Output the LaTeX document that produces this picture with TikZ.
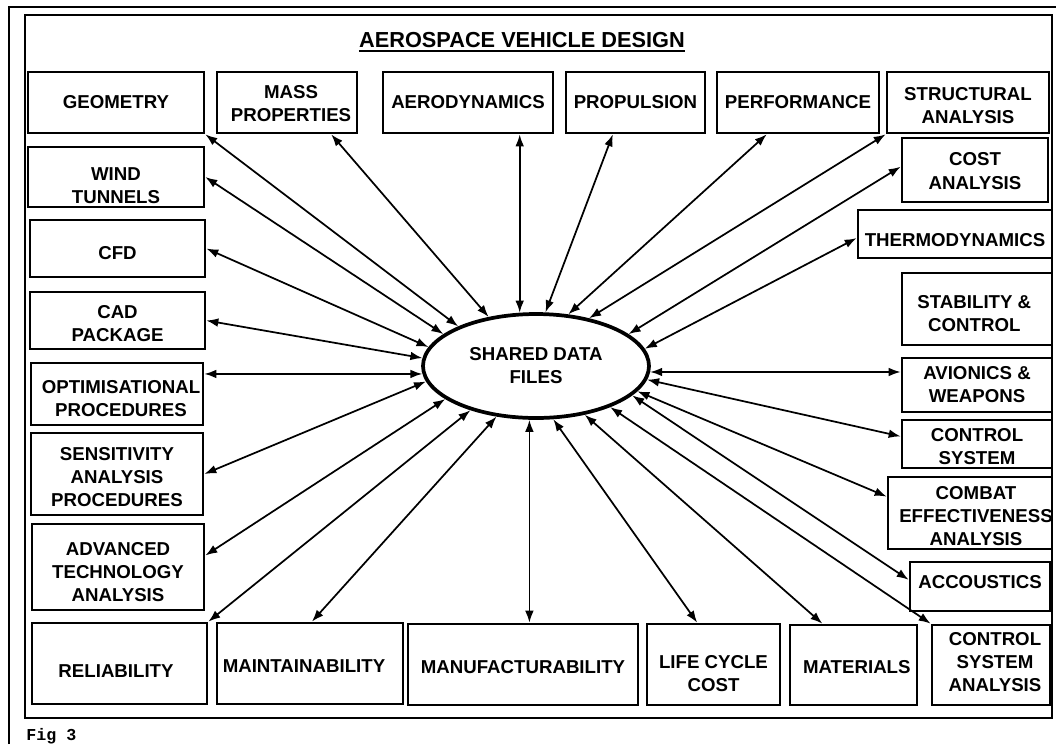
\documentclass[tikz,border=0pt]{standalone}
\usepackage{fontspec}
\setmainfont{Liberation Sans}
\newfontfamily\figfont{Liberation Mono}
\usetikzlibrary{arrows.meta,calc,fit,shapes.geometric}

\tikzset{
  box/.style={draw, line width=2pt, inner sep=0pt},
  txt/.style={font=\bfseries\fontsize{14}{17.3}\selectfont, align=center, inner sep=0pt},
  hub/.style={ellipse, draw, line width=2.8pt, inner sep=0pt,
              minimum width=169.5pt, minimum height=78pt,
              font=\bfseries\fontsize{14}{17.3}\selectfont, align=center},
  link/.style={{Latex[length=9pt,width=6.5pt]}-{Latex[length=9pt,width=6.5pt]}, line width=1.3pt},
  frame/.style={line width=2.2pt}
}

\begin{document}
\begin{tikzpicture}[x=0.75pt, y=-0.75pt]
\useasboundingbox (0,0) rectangle (1056,744);
\fill[white] (0,0) rectangle (1056,744);

% page frames
\draw[line width=1.9pt] (9,744) -- (9,7) -- (1056,7);
\draw[frame] (25,15) rectangle (1052,718);

% heading
\node[txt, font=\bfseries\fontsize{16.3}{19}\selectfont, anchor=base] (ttl) at (522,47) {AEROSPACE VEHICLE DESIGN};
\draw[line width=1.5pt] ([yshift=-3pt]ttl.base west) -- ([yshift=-3pt]ttl.base east);

% central store
\node[hub] (ell) at (536,366) {SHARED DATA\\FILES};

% top row
\node[box, fit={(28,72) (204,133)}] (geo) {};
\node[box, fit={(217,72) (357,133)}] (mass) {};
\node[box, fit={(383,72) (553,133)}] (aero) {};
\node[box, fit={(566,72) (705,133)}] (prop) {};
\node[box, fit={(717,72) (879,133)}] (perf) {};
\node[box, fit={(887,72) (1049,133)}] (struct) {};
% right column
\node[box, fit={(902,138) (1048,202)}] (cost) {};
\node[box, fit={(858,210) (1052,258)}] (thermo) {};
\node[box, fit={(902,273) (1052,345)}] (stab) {};
\node[box, fit={(902,358) (1052,412)}] (avi) {};
\node[box, fit={(902,420) (1052,468)}] (ctrl) {};
\node[box, fit={(888,477) (1052,549)}] (combat) {};
\node[box, fit={(910,562) (1050,611)}] (acc) {};
% bottom row
\node[box, fit={(932,625) (1050,705)}] (csa) {};
\node[box, fit={(790,625) (917,705)}] (mat) {};
\node[box, fit={(647,624) (780,705)}] (life) {};
\node[box, fit={(408,624) (638,705)}] (manuf) {};
\node[box, fit={(217,623) (403,704)}] (maint) {};
\node[box, fit={(32,623) (207,704)}] (reli) {};
% left column
\node[box, fit={(32,524) (204,610)}] (adv) {};
\node[box, fit={(31,433) (203,515)}] (sens) {};
\node[box, fit={(31,363) (203,425)}] (opt) {};
\node[box, fit={(30,292) (205,349)}] (cad) {};
\node[box, fit={(30,220) (205,277)}] (cfd) {};
\node[box, fit={(28,147) (204,207)}] (wind) {};

% box labels
\node[txt] (geo-t) at (geo) {GEOMETRY};
\node[txt, yshift=-0.8pt, xshift=3pt] (mass-t) at (mass) {MASS\\PROPERTIES};
\node[txt] (aero-t) at (aero) {AERODYNAMICS};
\node[txt] (prop-t) at (prop) {PROPULSION};
\node[txt] (perf-t) at (perf) {PERFORMANCE};
\node[txt, yshift=-2.2pt] (struct-t) at (struct) {STRUCTURAL\\ANALYSIS};
\node[txt, yshift=-0.8pt] (cost-t) at (cost) {COST\\ANALYSIS};
\node[txt, yshift=-4.5pt] (thermo-t) at (thermo) {THERMODYNAMICS};
\node[txt, yshift=-3.7pt, xshift=-2pt] (stab-t) at (stab) {STABILITY \&\\CONTROL};
\node[txt] (avi-t) at (avi) {AVIONICS \&\\WEAPONS};
\node[txt, yshift=-1.9pt] (ctrl-t) at (ctrl) {CONTROL\\SYSTEM};
\node[txt, yshift=-2.6pt, xshift=4.5pt] (combat-t) at (combat) {COMBAT\\EFFECTIVENESS\\ANALYSIS};
\node[txt, yshift=3.7pt] (acc-t) at (acc) {ACCOUSTICS};
\node[txt, yshift=1.9pt, xshift=3pt] (csa-t) at (csa) {CONTROL\\SYSTEM\\ANALYSIS};
\node[txt, yshift=-1.5pt, xshift=2.5pt] (mat-t) at (mat) {MATERIALS};
\node[txt, yshift=-6.7pt] (life-t) at (life) {LIFE CYCLE\\COST};
\node[txt, yshift=-1.9pt] (manuf-t) at (manuf) {MANUFACTURABILITY};
\node[txt, yshift=-2.2pt, xshift=-4.5pt] (maint-t) at (maint) {MAINTAINABILITY};
\node[txt, yshift=-6pt, xshift=-2.6pt] (reli-t) at (reli) {RELIABILITY};
\node[txt, yshift=-3.7pt] (adv-t) at (adv) {ADVANCED\\TECHNOLOGY\\ANALYSIS};
\node[txt, yshift=-2.2pt] (sens-t) at (sens) {SENSITIVITY\\ANALYSIS\\PROCEDURES};
\node[txt, yshift=-3.4pt, xshift=3pt] (opt-t) at (opt) {OPTIMISATIONAL\\PROCEDURES};
\node[txt, yshift=-2.2pt] (cad-t) at (cad) {CAD\\PACKAGE};
\node[txt, yshift=-3.7pt] (cfd-t) at (cfd) {CFD};
\node[txt, yshift=-6.4pt] (wind-t) at (wind) {WIND\\TUNNELS};

% data links
\draw[link] (ell.153.1) -- (geo.south east);
\draw[link] (ell.134.1) -- ($(mass.south west)!0.81!(mass.south east)$);
\draw[link] (ell.107.3) -- (ell.107.3 |- aero.south);
\draw[link] (ell.80.1) -- ($(prop.south west)!0.34!(prop.south east)$);
\draw[link] (ell.58.2) -- ($(perf.south west)!0.31!(perf.south east)$);
\draw[link] (ell.42.3) -- (struct.south west);
\draw[link] (ell.19.8) -- ($(cost.north west)!0.45!(cost.south west)$);
\draw[link] (ell.9) -- ($(thermo.north west)!0.58!(thermo.south west)$);
\draw[link] (ell.-3.6) -- (ell.-3.6 -| avi.west);
\draw[link] (ell.-7.9) -- ($(ctrl.north west)!0.35!(ctrl.south west)$);
\draw[link] (ell.-14) -- ($(combat.north west)!0.28!(combat.south west)$);
\draw[link] (ell.-17) -- ($(acc.north west)!0.37!(acc.south west)$);
\draw[link] (ell.-29.4) -- (csa.north west);
\draw[link] (ell.-45) -- ($(mat.north west)!0.26!(mat.north east)$);
\draw[link] (ell.-72.7) -- ($(life.north west)!0.38!(life.north east)$);
\draw[link] (ell.-97.7) -- (ell.-97.7 |- manuf.north);
\draw[link] (ell.-128.5) -- ($(maint.north west)!0.51!(maint.north east)$);
\draw[link] (ell.-146.1) -- (reli.north east);
\draw[link] (ell.-160.2) -- ($(adv.north east)!0.37!(adv.south east)$);
\draw[link] (ell.-172.1) -- (sens.east);
\draw[link] (ell.-176.5) -- (ell.-176.5 -| opt.east);
\draw[link] (ell.176.4) -- (cad.east);
\draw[link] (ell.170.4) -- (cfd.east);
\draw[link] (ell.161.2) -- (wind.east);

% caption
\node[font=\figfont\bfseries\fontsize{12.5}{14}\selectfont, anchor=base west, inner sep=0pt] (fig) at (26,740) {Fig 3};
\end{tikzpicture}
\end{document}
